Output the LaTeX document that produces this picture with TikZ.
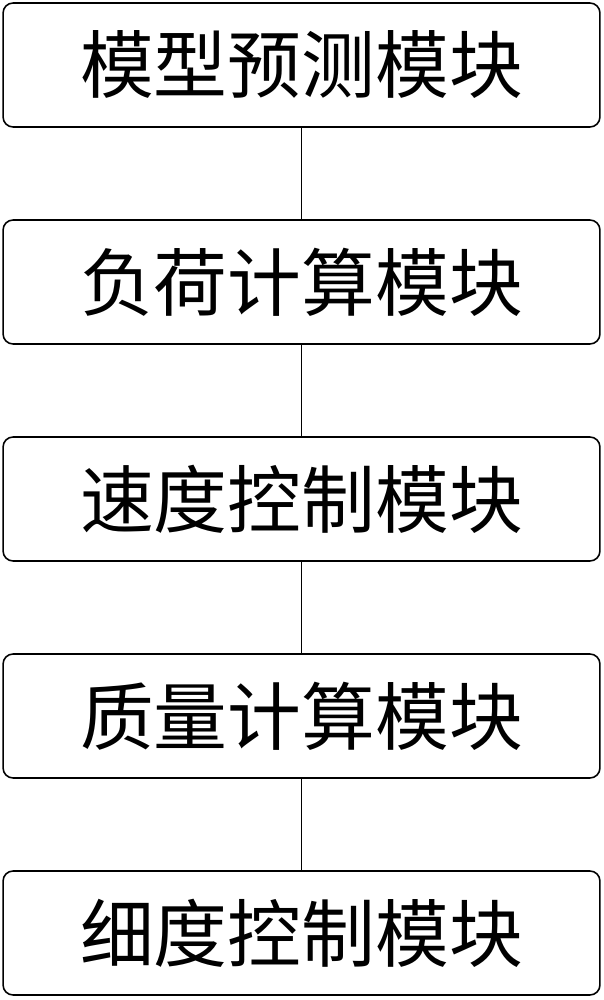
\documentclass[tikz,border=0pt]{standalone}
\usepackage{fontspec}
\newfontfamily\cjk{Noto Sans CJK SC}
\usepackage{tikz}
\usetikzlibrary{positioning}

\begin{document}
\begin{tikzpicture}[x=0.02cm,y=-0.02cm,font=\cjk\fontsize{42}{42}\selectfont]
  \tikzset{modbox/.style={draw,line width=0.9pt,rounded corners=0.2cm,minimum width=11.94cm,minimum height=2.48cm,inner sep=0pt}}
  \useasboundingbox (0,0) rectangle (604,1000);
  \foreach \y/\name/\txt in {65/mA/模型预测模块,282/mB/负荷计算模块,499/mC/速度控制模块,716/mD/质量计算模块,933/mE/细度控制模块}{
    \node[modbox] (\name) at (301.5,\y){\txt};
  }
  \draw[line width=0.9pt] (mA) -- (mB);
  \draw[line width=0.9pt] (mB) -- (mC);
  \draw[line width=0.9pt] (mC) -- (mD);
  \draw[line width=0.9pt] (mD) -- (mE);
\end{tikzpicture}
\end{document}
